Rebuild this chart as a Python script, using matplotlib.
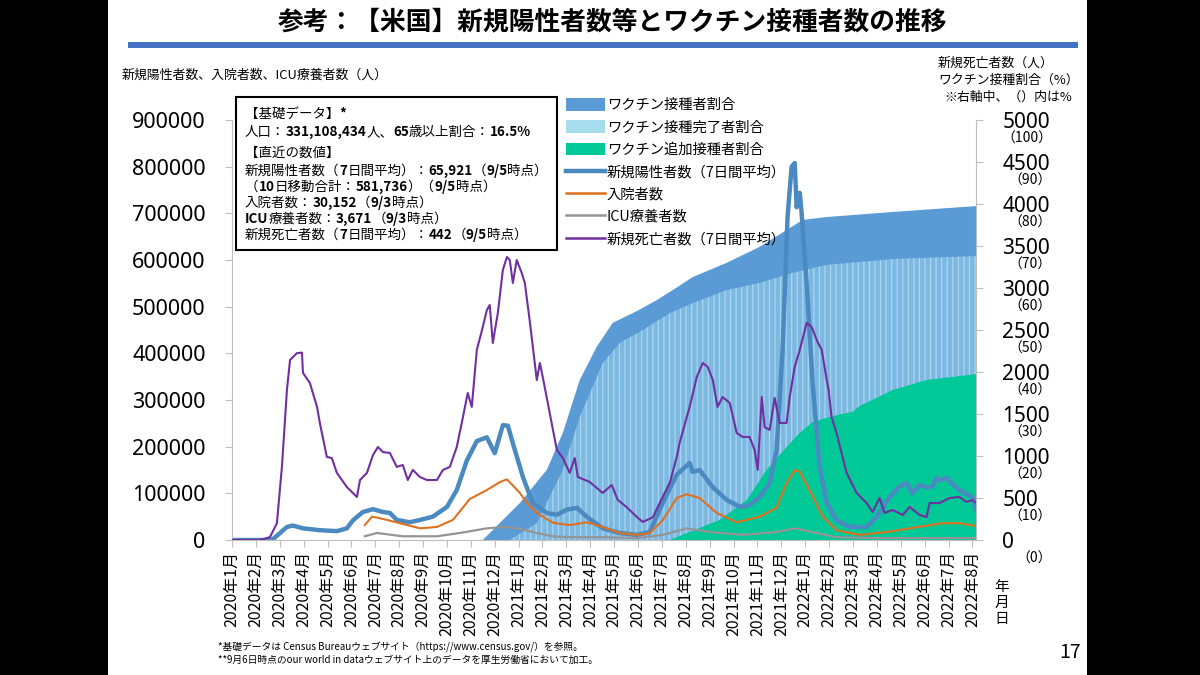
import matplotlib
matplotlib.use('Agg')
import matplotlib.pyplot as plt
from matplotlib.patches import Patch, Rectangle
from matplotlib.lines import Line2D

plt.rcParams['font.family'] = ['Noto Sans CJK JP', 'DejaVu Sans']
plt.rcParams['hatch.linewidth'] = 0.9

# ---------------- data (x = month index, 0 = 2020年1月) ----------------
tick_labels = [f'{2020 + i // 12}年{i % 12 + 1}月' for i in range(32)]

cases_x = [0, 1.38, 1.72, 2.30, 2.55, 2.97, 3.68, 4.39, 4.81, 5.06, 5.48, 5.90, 6.32, 6.61, 6.90,
           7.45, 7.87, 8.41, 9.00, 9.41, 9.83, 10.25, 10.67, 11.00, 11.34, 11.55, 11.76, 12.18,
           12.59, 13.18, 13.60, 14.02, 14.44, 14.85, 15.52, 16.23, 16.95, 17.49, 18.03, 18.62,
           19.16, 19.29, 19.58, 20.13, 20.71, 21.26, 21.67, 22.09, 22.51, 22.80, 23.05, 23.26,
           23.43, 23.56, 23.64, 23.77, 23.85, 24.06, 24.31, 24.60, 24.90, 25.31, 25.86, 26.57,
           26.99, 27.53, 27.95, 28.24, 28.49, 28.79, 29.08, 29.33, 29.50, 29.62, 29.92, 30.17,
           30.46, 30.67, 31.00, 31.15]
cases_v = [0, 0, 2000, 28000, 31000, 25000, 21000, 19000, 25000, 42000, 60000, 66000, 60000, 58000,
           43000, 38000, 43000, 50000, 71000, 107000, 170000, 212000, 220000, 186000, 246000,
           245000, 207000, 135000, 79000, 58000, 54000, 65000, 69000, 50000, 25000, 15000, 11000,
           17000, 79000, 140000, 165000, 146000, 150000, 113000, 86000, 71000, 75000, 92000,
           122000, 193000, 406000, 692000, 800000, 808000, 713000, 744000, 700000, 550000,
           336000, 157000, 79000, 42000, 28000, 28000, 50000, 92000, 115000, 122000, 100000,
           118000, 113000, 115000, 133000, 128000, 133000, 120000, 107000, 100000, 92000, 65000]

hosp_x = [5.56, 5.86, 6.07, 6.49, 7.03, 7.87, 8.58, 9.25, 9.96, 10.67, 11.21, 11.51, 11.76, 12.05,
          12.34, 12.76, 13.43, 14.14, 14.85, 15.52, 16.23, 16.95, 17.49, 18.03, 18.62, 19.04,
          19.58, 20.29, 21.13, 22.09, 22.80, 23.22, 23.56, 23.77, 24.18, 24.73, 25.31, 26.28,
          27.41, 28.37, 29.75, 30.46, 31.15]
hosp_v = [32000, 50000, 48000, 43000, 36000, 25000, 28000, 43000, 88000, 107000, 124000, 130000,
          117000, 101000, 80000, 58000, 37000, 32000, 38000, 28000, 15000, 11000, 15000, 42000,
          90000, 98000, 90000, 58000, 38000, 50000, 69000, 122000, 150000, 146000, 107000, 50000,
          21000, 11000, 17000, 25000, 36000, 36000, 30000]

icu_x = [5.56, 6.07, 7.15, 8.58, 9.54, 10.67, 11.42, 12.05, 12.76, 13.43, 14.14, 15.52, 16.95,
         18.03, 19.04, 20.00, 21.38, 22.80, 23.56, 24.31, 25.31, 26.99, 31.15]
icu_v = [8000, 15000, 8000, 8000, 15000, 25000, 28000, 24000, 15000, 8000, 6000, 6000, 4000,
         11000, 25000, 17000, 11000, 17000, 25000, 17000, 6000, 4000, 4000]

death_x = [0, 1.17, 1.59, 1.88, 2.09, 2.30, 2.43, 2.72, 2.93, 2.97, 3.26, 3.56, 3.68, 3.97, 4.18,
           4.39, 4.81, 5.23, 5.36, 5.65, 5.90, 6.11, 6.32, 6.61, 6.90, 7.15, 7.36, 7.57, 7.87,
           8.16, 8.58, 8.83, 9.12, 9.41, 9.67, 9.87, 10.04, 10.25, 10.50, 10.67, 10.79, 10.92,
           11.13, 11.34, 11.51, 11.63, 11.76, 11.92, 12.13, 12.26, 12.47, 12.76, 12.89, 13.01,
           13.31, 13.60, 13.85, 14.14, 14.35, 14.48, 14.98, 15.52, 15.90, 16.15, 16.53, 16.95,
           17.20, 17.62, 18.03, 18.33, 18.62, 18.74, 19.04, 19.16, 19.46, 19.71, 19.92, 20.13,
           20.33, 20.54, 20.84, 21.13, 21.38, 21.67, 21.88, 22.01, 22.18, 22.30, 22.51, 22.72,
           22.93, 23.22, 23.35, 23.56, 23.77, 24.06, 24.27, 24.48, 24.69, 24.90, 24.98, 25.10,
           25.31, 25.73, 26.15, 26.57, 26.82, 27.11, 27.32, 27.66, 28.08, 28.37, 28.79, 29.08,
           29.21, 29.62, 30.04, 30.46, 30.75, 31.00, 31.15]
death_v = [0, 0, 35, 200, 870, 1786, 2143, 2225, 2230, 1990, 1870, 1585, 1390, 990, 975, 800, 630,
           512, 714, 800, 1010, 1107, 1047, 1036, 870, 893, 714, 834, 750, 714, 714, 834, 870,
           1107, 1464, 1750, 1584, 2262, 2536, 2738, 2798, 2346, 2703, 3214, 3369, 3333, 3060,
           3333, 3179, 3060, 2600, 1905, 2107, 1941, 1500, 1072, 976, 800, 976, 750, 690, 560,
           655, 477, 390, 274, 215, 270, 512, 680, 988, 1155, 1464, 1584, 1941, 2107, 2060, 1905,
           1584, 1702, 1631, 1274, 1227, 1227, 1072, 834, 1702, 1345, 1310, 1691, 1393, 1393,
           1702, 2060, 2262, 2584, 2536, 2381, 2262, 1905, 1786, 1464, 1274, 800, 560, 440, 333,
           500, 322, 357, 298, 393, 298, 274, 440, 440, 500, 512, 452, 477, 442]

vac1_x = [10.50, 12.05, 13.18, 13.85, 14.56, 15.27, 15.94, 16.95, 17.78, 18.45, 19.29, 20.71,
          21.55, 22.09, 23.22, 23.89, 24.90, 27.66, 31.15]
vac1_v = [0, 8.8, 16.7, 25.5, 38.1, 46.0, 51.7, 54.5, 57.1, 59.5, 62.6, 66.0, 68.3, 69.8, 73.8,
          76.2, 76.9, 78.1, 79.5]

vac2_x = [11.63, 12.76, 13.85, 14.56, 15.52, 16.23, 17.20, 18.33, 19.29, 20.71, 22.09, 23.47,
          24.90, 26.28, 27.66, 31.15]
vac2_v = [0, 4.0, 16.7, 29.3, 42.1, 46.9, 50.0, 54.0, 56.4, 59.5, 61.2, 63.6, 65.5, 66.2, 66.9,
          67.6]

boost_x = [18.33, 20.42, 21.55, 22.38, 23.22, 23.77, 24.31, 25.15, 25.98, 26.28, 27.66, 29.08,
           31.15]
boost_v = [0, 4.8, 9.5, 16.7, 22.1, 25.5, 28.1, 29.5, 30.5, 31.9, 35.7, 38.1, 39.5]

left_ticks = list(range(0, 900001, 100000))
right_ticks = list(range(0, 5001, 500))
pct_ticks = list(range(0, 101, 10))

legend_labels = ['ワクチン接種者割合', 'ワクチン接種完了者割合', 'ワクチン追加接種者割合',
                 '新規陽性者数（7日間平均）', '入院者数', 'ICU療養者数', '新規死亡者数（7日間平均）']

# info box lines: (text, bold) segments
info_lines = [
    [('【基礎データ】', False), ('*', True)],
    [('人口：', False), ('331,108,434', True), ('人、', False), ('65', True),
     ('歳以上割合：', False), ('16.5%', True)],
    [('【直近の数値】', False)],
    [('新規陽性者数（', False), ('7', True), ('日間平均）：', False), ('65,921', True),
     ('（', False), ('9/5', True), ('時点）', False)],
    [('（', False), ('10', True), ('日移動合計：', False), ('581,736', True), ('）（', False),
     ('9/5', True), ('時点）', False)],
    [('入院者数：', False), ('30,152', True), ('（', False), ('9/3', True), ('時点）', False)],
    [('ICU', True), ('療養者数：', False), ('3,671', True), ('（', False), ('9/3', True),
     ('時点）', False)],
    [('新規死亡者数（', False), ('7', True), ('日間平均）：', False), ('442', True),
     ('（', False), ('9/5', True), ('時点）', False)],
]

# ---------------- colours ----------------
C_VAC1 = '#5B9BD5'
C_VAC2 = '#7DB8E1'
C_VAC2_LEG = '#A6DCEC'
C_BOOST = '#00C896'
C_CASES = '#4A8AC0'
C_HOSP = '#E07020'
C_ICU = '#959595'
C_DEATH = '#7030A0'
C_AXIS = '#BFBFBF'
NUM_FONT = ['Noto Sans', 'DejaVu Sans']

W, H = 1200, 675
fig = plt.figure(figsize=(12, 6.75), dpi=100)
fig.patch.set_facecolor('white')


def fx(px):
    return px / W


def fy(py):
    return 1 - py / H


# side bars
fig.patches.append(Rectangle((0, 0), fx(108), 1, transform=fig.transFigure,
                             facecolor='black', edgecolor='none', zorder=10))
fig.patches.append(Rectangle((fx(1087), 0), 1 - fx(1087), 1, transform=fig.transFigure,
                             facecolor='black', edgecolor='none', zorder=10))

# title + bar
fig.text(fx(612), fy(22), '参考：【米国】新規陽性者数等とワクチン接種者数の推移',
         ha='center', va='center', fontsize=18.5, fontweight='bold')
fig.patches.append(Rectangle((fx(128), fy(48)), fx(1078 - 128), 6 / H, transform=fig.transFigure,
                             facecolor='#4472C4', edgecolor='none', zorder=3))

rect = [fx(232), fy(540), fx(976 - 232), 420 / H]
ax = fig.add_axes(rect)
axv = ax.twinx()
axd = ax.twinx()
axv.set_zorder(0)
ax.set_zorder(1)
axd.set_zorder(2)
axv.patch.set_visible(True)
axv.patch.set_facecolor('white')
ax.patch.set_visible(False)
axd.patch.set_visible(False)

XMAX = 31.15
for a in (ax, axv, axd):
    a.set_xlim(0, XMAX)
    for s in a.spines.values():
        s.set_visible(False)

# vaccination areas
axv.set_ylim(0, 100)
axv.fill_between(vac1_x, vac1_v, 0, facecolor=C_VAC1, edgecolor='none', linewidth=0)
axv.fill_between(vac2_x, vac2_v, 0, facecolor=C_VAC2, edgecolor='#A9D7F0', linewidth=0,
                 hatch='|||')
axv.fill_between(boost_x, boost_v, 0, facecolor=C_BOOST, edgecolor='none', linewidth=0)
axv.tick_params(axis='y', right=False, labelright=False, left=False, labelleft=False)

# left axis lines
ax.set_ylim(0, 900000)
ax.plot(cases_x, cases_v, color=C_CASES, lw=3.2, solid_capstyle='round', solid_joinstyle='round')
ax.plot(hosp_x, hosp_v, color=C_HOSP, lw=1.5)
ax.plot(icu_x, icu_v, color=C_ICU, lw=1.6)
ax.spines['left'].set_visible(True)
ax.spines['left'].set_color(C_AXIS)
ax.spines['bottom'].set_visible(True)
ax.spines['bottom'].set_color(C_AXIS)
ax.set_yticks(left_ticks)
ax.set_yticklabels([str(v) for v in left_ticks], family=NUM_FONT)
ax.tick_params(axis='y', length=5, color=C_AXIS, pad=14, labelsize=15.5)
ax.set_xticks(range(32))
ax.set_xticklabels(tick_labels, rotation=90)
ax.tick_params(axis='x', length=5, color=C_AXIS, pad=3, labelsize=11.5)

# deaths (right axis)
axd.set_ylim(0, 5000)
axd.plot(death_x, death_v, color=C_DEATH, lw=1.5)
axd.spines['right'].set_visible(True)
axd.spines['right'].set_color(C_AXIS)
axd.set_yticks(right_ticks)
axd.set_yticklabels([str(v) for v in right_ticks], family=NUM_FONT)
axd.tick_params(axis='y', length=5, color=C_AXIS, pad=14, labelsize=15)

for p in pct_ticks:
    axv.annotate(f'（{p}）', xy=(1.0, p), xycoords=('axes fraction', 'data'),
                 xytext=(76 * 0.72, -19 * 0.72), textcoords='offset points',
                 ha='right', va='center', fontsize=10, annotation_clip=False)

# legend
handles = [Patch(facecolor=C_VAC1, edgecolor='none'),
           Patch(facecolor=C_VAC2_LEG, edgecolor='none'),
           Patch(facecolor=C_BOOST, edgecolor='none'),
           Line2D([], [], color=C_CASES, lw=3.2),
           Line2D([], [], color=C_HOSP, lw=1.8),
           Line2D([], [], color=C_ICU, lw=1.8),
           Line2D([], [], color=C_DEATH, lw=1.8)]
leg = axd.legend(handles, legend_labels, loc='upper left',
                 bbox_to_anchor=(fx(566), fy(98)), bbox_transform=fig.transFigure,
                 frameon=False, fontsize=10.3, handlelength=2.7, handleheight=1.0,
                 labelspacing=0.56, handletextpad=0.15, borderaxespad=0, borderpad=0)

# info box
fig.patches.append(Rectangle((fx(236), fy(250)), fx(557 - 236), (250 - 97) / H,
                             transform=fig.transFigure, facecolor='white',
                             edgecolor='black', linewidth=1.5, zorder=5))
info_y = [114, 132, 153, 171, 187, 203, 219, 235]
renderer = fig.canvas.get_renderer()
for yy, segs in zip(info_y, info_lines):
    xpix = 245.0
    for txt, bold in segs:
        t = fig.text(fx(xpix), fy(yy), txt, ha='left', va='center', fontsize=9.7,
                     fontweight='bold' if bold else 'normal', zorder=6)
        bb = t.get_window_extent(renderer=renderer)
        xpix += bb.width

# axis titles
fig.text(fx(122), fy(75), '新規陽性者数、入院者数、ICU療養者数（人）', ha='left', va='center',
         fontsize=9.3)
fig.text(fx(938), fy(63), '新規死亡者数（人）', ha='left', va='center', fontsize=9.3)
fig.text(fx(938), fy(80), 'ワクチン接種割合（%）', ha='left', va='center', fontsize=9.3)
fig.text(fx(944), fy(97), '※右軸中、（）内は%', ha='left', va='center', fontsize=9.3)
fig.text(fx(1002), fy(603), '年\n月\n日', ha='center', va='center', fontsize=10.5,
         linespacing=1.15)

# footnotes
fig.text(fx(218), fy(647), '*基礎データは Census Bureauウェブサイト（https://www.census.gov/）を参照。',
         ha='left', va='center', fontsize=7)
fig.text(fx(218), fy(660), '**9月6日時点のour world in dataウェブサイト上のデータを厚生労働省において加工。',
         ha='left', va='center', fontsize=7)
fig.text(fx(1081), fy(652), '17', ha='right', va='center', fontsize=14)

fig.savefig('out.png', dpi=100, facecolor='white')
